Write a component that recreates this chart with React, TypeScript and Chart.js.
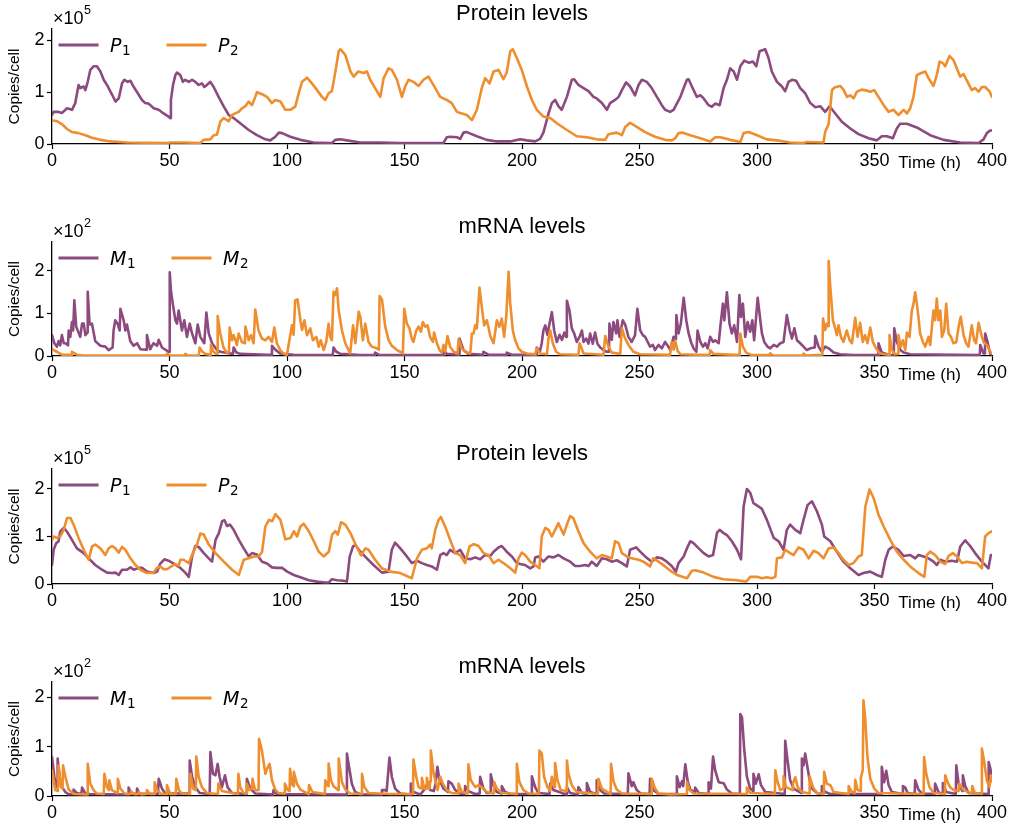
import React, { useEffect, useRef } from 'react';
import { Chart, registerables } from 'chart.js';

Chart.register(...registerables);

type Pt = [number, number];

const X_TICKS = [0, 50, 100, 150, 200, 250, 300, 350, 400];
const Y_TICKS = [0, 1, 2];
const PURPLE = '#8C4A7E';
const ORANGE = '#EF8E2F';
const SANS = '"Liberation Sans", Arial, sans-serif';

// Panel 1: protein levels (x10^5 copies/cell)
const P1_A: Pt[] = [[0,0.56],[0.7,0.62],[2.8,0.62],[4.3,0.6],[6.4,0.69],[8.5,0.66],[9.9,0.79],[11.3,1.14],[12,1.08],[13.5,1.11],[14.2,1.04],[15.2,1.2],[16.3,1.43],[17.7,1.5],[19.1,1.5],[20.6,1.4],[22,1.24],[23.4,1.14],[25.6,0.95],[27,0.82],[28.4,0.88],[29.8,1.17],[30.8,1.24],[32.2,1.2],[33.4,1.22],[34.8,1.1],[36.5,0.98],[38.3,0.85],[39.7,0.79],[41.1,0.78],[43.3,0.69],[45.4,0.66],[47.5,0.59],[49.6,0.53],[50.3,0.5],[50.6,0.85],[51.5,1.14],[52.5,1.33],[53.2,1.38],[54.6,1.33],[55.7,1.2],[56.7,1.24],[58.2,1.2],[59.6,1.24],[61,1.2],[62.4,1.14],[63.8,1.17],[64.8,1.1],[65.9,1.14],[67.4,1.2],[68.8,1.1],[70.9,0.91],[73,0.73],[75.2,0.56],[77.3,0.5],[80.1,0.4],[83.7,0.27],[87.2,0.17],[90.8,0.09],[92.9,0.07],[95,0.14],[96.5,0.22],[97.9,0.21],[101.4,0.14],[105.7,0.08],[111.3,0.03],[119.1,0.02],[120.5,0.08],[122.7,0.09],[125.5,0.07],[131.2,0.03],[139.7,0.03],[148,0.02],[166.6,0.02],[168,0.13],[169.4,0.14],[172.3,0.13],[173.7,0.1],[175.1,0.22],[176.5,0.23],[180.8,0.15],[185,0.08],[189.3,0.05],[195,0.05],[199.2,0.09],[202.1,0.07],[205.6,0.05],[207.7,0.1],[209.1,0.22],[211.3,0.59],[212.7,0.79],[214.1,0.85],[215.5,0.73],[216.9,0.66],[219.1,0.91],[221.2,1.24],[222.2,1.25],[224,1.14],[226.2,1.08],[228.3,1.02],[230.4,0.91],[231.8,0.88],[234,0.79],[236.1,0.66],[237.5,0.79],[239.6,0.85],[241.1,0.91],[242.5,1.04],[244.3,1.19],[246,1.11],[248.1,0.94],[249.6,1.14],[251,1.24],[253.1,1.2],[255.2,1.08],[257.4,0.91],[259.5,0.75],[260.9,0.66],[263,0.62],[264.5,0.66],[266,0.79],[267.4,0.91],[268.8,1.08],[270.2,1.24],[270.9,1.25],[272.3,1.11],[274.4,0.91],[275.9,0.94],[277.3,0.88],[279.4,0.75],[280.8,0.72],[282.2,0.78],[284.1,0.75],[285.8,1.08],[287.2,1.24],[288.6,1.46],[290.1,1.4],[291.5,1.24],[292.9,1.5],[294.6,1.61],[296.4,1.57],[298.3,1.59],[299.7,1.5],[301.1,1.79],[303.5,1.83],[304.9,1.66],[306.3,1.4],[308.5,1.2],[310.6,1.11],[312,1.02],[313.4,1.2],[314.9,1.24],[316.7,1.22],[318.4,1.08],[320.5,0.98],[322.7,0.79],[324.8,0.71],[326.9,0.73],[329,0.62],[330.9,0.73],[333.3,0.59],[336.1,0.43],[339.7,0.3],[343.2,0.19],[347.5,0.11],[351,0.07],[353.1,0.15],[355.3,0.15],[357.8,0.11],[359.5,0.3],[360.9,0.39],[363.8,0.39],[368,0.32],[373.7,0.17],[379.4,0.08],[386.5,0.03],[394.3,0.02],[396.4,0.09],[397.8,0.21],[399.2,0.26],[400,0.26]];

const P2_A: Pt[] = [[0,0.46],[2.1,0.44],[4.3,0.38],[6.4,0.29],[8.5,0.23],[11.3,0.21],[14.2,0.17],[17,0.12],[20.6,0.08],[24.8,0.05],[31.9,0.03],[48.9,0.02],[50.3,0.03],[56,0.03],[63.1,0.02],[64.5,0.08],[67.4,0.09],[68.8,0.17],[70.2,0.18],[71.6,0.43],[73,0.5],[75.2,0.44],[76.6,0.56],[78,0.59],[79.4,0.62],[80.9,0.69],[82.3,0.73],[83.7,0.82],[85.1,0.75],[86.5,0.91],[87.2,1.0],[89.4,0.96],[91.5,0.91],[93.6,0.79],[95,0.85],[97.2,0.82],[99.3,0.66],[101.4,0.66],[103.5,0.72],[105,0.98],[106.4,1.2],[108.5,1.28],[110.6,1.17],[112.8,1.04],[114.9,0.91],[116.3,0.85],[117.7,0.98],[119.1,1.02],[120.6,1.4],[122,1.79],[122.7,1.83],[124.8,1.72],[127,1.4],[128.4,1.3],[129.5,1.36],[130.4,1.4],[132.6,1.37],[134,1.4],[135.4,1.24],[137.5,1.08],[139.7,0.91],[141.1,1.27],[143.2,1.46],[144.6,1.43],[146.8,1.24],[148.9,0.91],[150.3,1.11],[151.7,1.24],[153.8,1.2],[156,1.12],[158.1,1.24],[160.2,1.3],[162.3,1.14],[165.2,0.91],[168,0.85],[170.1,0.79],[172.3,0.62],[174.4,0.59],[176.5,0.56],[178.7,0.46],[180.8,0.66],[182.9,1.08],[184.3,1.27],[186.2,1.17],[187.9,1.4],[190,1.43],[192.1,1.25],[193.5,1.38],[195,1.79],[196.1,1.83],[197.8,1.66],[199.9,1.43],[202.1,1.11],[204.2,0.85],[206.3,0.66],[209.1,0.53],[212,0.5],[214.8,0.4],[219.1,0.27],[223.3,0.15],[227.6,0.13],[231.8,0.09],[235.4,0.08],[236.8,0.19],[240.3,0.22],[242.5,0.17],[243.9,0.33],[246,0.41],[248.8,0.33],[252.4,0.23],[256.6,0.14],[260.9,0.08],[263.7,0.07],[265.2,0.11],[266.6,0.21],[268.1,0.22],[271.6,0.17],[275.9,0.11],[280.1,0.05],[282.2,0.13],[284.4,0.13],[288.6,0.08],[292.9,0.04],[294.3,0.21],[296.4,0.23],[300,0.17],[304.2,0.09],[308.5,0.07],[314.1,0.03],[319.8,0.02],[321.2,0.04],[328.3,0.03],[329,0.23],[330.5,0.39],[331.9,1.04],[332.9,1.09],[335.4,1.12],[336.8,1.05],[338.3,0.91],[339.7,0.94],[341.1,0.88],[342.5,1.01],[344.6,1.05],[346.8,1.03],[348.2,1.01],[349.9,1.04],[351.7,0.91],[353.9,0.75],[356,0.62],[358.1,0.66],[360.2,0.56],[362.4,0.66],[363.8,0.59],[365.2,0.69],[366.6,0.91],[368,1.33],[369.4,1.36],[371.6,1.4],[373,1.27],[375.1,1.12],[376.5,1.33],[377.7,1.59],[379.1,1.56],[380.1,1.5],[381.9,1.7],[383.6,1.62],[385.3,1.43],[386.5,1.3],[387.9,1.35],[389.6,1.2],[391.4,1.04],[392.8,1.08],[394.3,1.01],[395.7,1.1],[397.1,1.1],[399,1.01],[400,0.91]];

// Panel 2: mRNA levels (x10^2 copies/cell)
const M1_A: Pt[] = [[0,0.49],[1,0.3],[2.1,0.22],[2.8,0.35],[3.5,0.25],[4.2,0.49],[5,0.3],[5.7,0.3],[6.8,0.25],[7.1,0.6],[7.8,0.45],[8.5,0.8],[9,0.6],[9.5,1.31],[10.3,0.69],[12,0.45],[12.8,0.76],[13.5,0.76],[14.2,0.49],[15,0.55],[15.2,1.51],[16,0.74],[17,0.76],[18.4,0.35],[20.6,0.24],[22.7,0.22],[24.1,0.14],[25.8,0.2],[26.2,0.6],[26.9,0.84],[27.9,0.76],[28.8,0.6],[29.1,1.11],[30.5,0.84],[31.2,0.6],[31.9,0.74],[33.3,0.35],[34.7,0.24],[36.2,0.3],[37.6,0.16],[40,0.15],[40.4,0.49],[41.8,0.16],[43.2,0.3],[44.7,0.24],[45.4,0.38],[46.8,0.2],[48.2,0.15],[49.6,0.1],[50,0.1],[50.1,1.97],[50.6,1.54],[51.5,1.19],[52.5,0.84],[53.2,0.76],[53.9,1.07],[55.3,0.6],[56.3,0.84],[57.4,0.45],[58.6,0.76],[59.6,0.53],[61,0.3],[62,0.74],[63.1,0.45],[64.8,0.3],[65.7,1.02],[66.7,0.53],[68.1,0.3],[70.2,0.14],[71.6,0.1],[75.9,0.06],[77,0.05],[77.3,0.2],[78.5,0.08],[80.1,0.05],[91.5,0.03],[93.4,0.03],[93.6,0.24],[95,0.15],[97.1,0.06],[102.8,0.03],[119.5,0.02],[119.8,0.2],[121,0.1],[122.7,0.05],[131.2,0.02],[137.3,0.02],[137.5,0.08],[139,0.03],[166.4,0.02],[166.6,0.14],[168,0.05],[173.2,0.03],[173.4,0.41],[175.1,0.14],[177.2,0.05],[183.4,0.03],[183.6,0.1],[185.7,0.03],[193.3,0.03],[193.5,0.08],[195.7,0.03],[206.1,0.03],[206.3,0.2],[207.6,0.1],[208.4,0.3],[209.1,0.6],[209.9,0.72],[210.8,0.5],[211.7,0.76],[212.7,1.03],[213.7,0.6],[214.8,0.33],[216,0.5],[217,0.38],[218,0.55],[218.8,0.45],[219.1,1.3],[220.2,1.07],[221.2,0.65],[222.2,0.53],[223.3,0.33],[224.5,0.45],[225.5,0.6],[226.2,0.33],[227.3,0.41],[228.3,0.29],[229,0.53],[230.1,0.29],[231.1,0.55],[232.1,0.29],[233.3,0.2],[234.7,0.14],[236.1,0.1],[237,0.1],[237.2,0.76],[238.2,0.38],[238.9,0.8],[240.1,0.53],[240.6,0.84],[241.5,0.45],[242.9,0.84],[243.9,0.74],[245.3,0.45],[246.7,0.33],[248.1,0.49],[249.1,1.11],[250.3,0.6],[251.4,0.49],[252.4,0.45],[253.5,0.33],[254.5,0.22],[255.7,0.26],[256.6,0.14],[258.1,0.26],[259.5,0.18],[260.9,0.33],[262.3,0.22],[263.1,0.14],[264.5,0.45],[265.5,0.4],[265.7,0.96],[266.6,0.53],[267.6,0.76],[268.8,1.37],[269.9,0.84],[270.9,0.53],[271.9,0.33],[273,0.18],[274.2,0.1],[274.7,0.6],[275.9,0.33],[277,0.22],[278,0.3],[279,0.18],[280.1,0.45],[281.3,0.33],[282.2,0.37],[283.7,0.3],[284.4,0.69],[285.5,1.23],[286.1,0.84],[287.2,1.5],[288.3,0.76],[289.3,0.53],[290.3,0.72],[291.5,0.33],[292.5,1.43],[293.2,0.92],[294,1.23],[295,0.45],[296,0.8],[297.1,0.57],[298,0.84],[298.8,0.37],[300.3,1.37],[301.4,0.84],[302.1,0.53],[303.1,0.33],[304.5,0.22],[305.6,0.18],[307.1,0.26],[308.5,0.22],[309.9,0.3],[311.3,0.33],[312.7,0.96],[313.9,0.61],[314.9,0.41],[315.9,0.65],[317,0.37],[318.4,0.3],[319.8,0.22],[321.2,0.14],[322.7,0.18],[324.6,0.2],[324.8,0.47],[326.2,0.22],[327.6,0.1],[329,0.22],[330.5,0.18],[332.6,0.08],[335.4,0.04],[341.1,0.02],[351.5,0.02],[351.7,0.3],[353.1,0.08],[356.7,0.02],[358.2,0.02],[358.4,0.65],[359.5,0.33],[361,0.14],[362.4,0.08],[365.2,0.04],[394.8,0.02],[395,0.26],[396.4,0.06],[397,0.06],[397.1,0.53],[398.1,0.33],[399.2,0.06],[400,0.04]];

const M2_A: Pt[] = [[0,0.16],[2.1,0.1],[4.2,0.03],[8.2,0.03],[8.5,0.1],[10.6,0.03],[13.5,0.01],[48.6,0.01],[48.9,0.06],[50.3,0.01],[56.4,0.01],[56.7,0.05],[58.1,0.01],[62.5,0.01],[62.8,0.2],[64,0.1],[65.2,0.05],[67.3,0.03],[67.6,0.27],[68.5,0.12],[69.5,0.06],[70.3,0.05],[70.5,0.94],[71.6,0.53],[73,0.2],[74.5,0.06],[75.3,0.1],[75.6,0.67],[76.6,0.37],[77.3,0.49],[78.7,0.26],[79.4,0.53],[80.8,0.33],[82.1,0.3],[82.3,0.69],[83.7,0.37],[84.7,0.49],[85.8,0.3],[86.5,1.09],[87.9,0.6],[89.3,0.41],[90.8,0.37],[92.2,0.45],[93.6,0.33],[94.6,0.67],[95.7,0.3],[97.1,0.14],[98.6,0.05],[100,0.03],[101.1,0.4],[102.1,0.72],[102.8,0.5],[103.5,1.31],[104.5,1.33],[105.7,0.84],[106.4,0.61],[107.4,0.84],[108.5,0.49],[109.9,0.65],[111,0.37],[112.5,0.45],[113.5,0.22],[114.4,0.37],[115.6,0.14],[116.7,0.33],[117.7,0.76],[118.4,0.45],[119.1,0.37],[119.8,1.51],[120.5,1.43],[121.3,1.59],[122,1.07],[123.4,0.6],[124.8,0.3],[126.2,0.14],[126.9,0.06],[128.1,0.72],[129.1,0.3],[130.5,1.04],[131.2,0.92],[132.3,0.37],[133.3,0.76],[134.7,0.33],[136.1,0.22],[138.2,0.18],[139.1,0.15],[139.4,1.41],[140.4,1.33],[141.8,0.69],[143.2,0.38],[144.6,0.24],[146.8,0.14],[148.2,0.1],[149.3,0.06],[149.9,1.11],[151,0.76],[152.1,0.65],[153.1,0.41],[153.8,0.33],[155,0.6],[156,0.69],[157,0.57],[157.8,0.8],[158.8,0.69],[159.8,0.72],[160.9,0.45],[162.1,0.33],[162.6,0.55],[163.8,0.3],[164.9,0.14],[165.9,0.08],[166.6,0.26],[167.3,0.1],[168.3,0.47],[169.4,0.22],[170.9,0.1],[172.6,0.06],[173,0.4],[174.4,0.18],[175.8,0.1],[178,0.06],[178.7,0.53],[179.4,0.53],[180.1,0.72],[180.8,0.65],[181.9,1.61],[182.9,1.15],[183.9,0.72],[185,0.84],[185.7,0.69],[186.5,0.47],[187.9,0.3],[189.3,0.84],[190.4,0.69],[191.4,0.88],[192.4,0.45],[193.3,0.92],[194.3,1.98],[195,1.23],[196.1,0.6],[197.1,0.37],[198.5,0.18],[199.9,0.1],[202.1,0.06],[205.6,0.04],[206.3,0.18],[207.7,0.06],[210.6,0.04],[211.3,0.42],[212,0.6],[213.1,0.3],[214.5,0.1],[216.2,0.04],[224,0.03],[224.5,0.3],[226.2,0.06],[234.7,0.03],[235.4,0.47],[236.8,0.22],[238.2,0.08],[241.8,0.05],[242.5,0.65],[243.9,0.41],[245.3,0.26],[247.4,0.1],[250.3,0.04],[263,0.03],[263.7,0.33],[264.5,0.15],[265.2,0.35],[266.2,0.12],[267.4,0.04],[279.8,0.02],[280.1,0.14],[281.5,0.05],[292.6,0.02],[292.9,0.53],[294,0.22],[295.4,0.08],[297.8,0.02],[305.4,0.02],[305.6,0.06],[307,0.01],[319.6,0.01],[319.8,0.06],[321,0.01],[327.8,0.03],[328.1,0.88],[329,0.61],[329.7,0.76],[330.3,0.7],[330.5,2.23],[331.2,1.62],[332.3,0.84],[333.3,0.65],[334,0.49],[334.7,0.72],[335.7,0.45],[336.8,0.33],[338.2,0.6],[339.4,0.37],[340.4,0.3],[341.8,0.9],[342.8,0.45],[343.9,0.78],[345,0.33],[346,0.49],[347,0.3],[348.2,0.67],[349.3,0.33],[350.7,0.18],[352.2,0.06],[354,0.04],[356.2,0.03],[356.4,0.49],[357.4,0.14],[358.8,0.04],[360,0.05],[360.2,0.49],[361.2,0.22],[362.1,0.37],[363.1,0.14],[363.8,0.55],[364.9,0.45],[365.9,1.07],[366.6,1.23],[367.3,1.5],[368,1.23],[368.7,0.92],[369.4,0.53],[370.6,0.33],[371.6,0.22],[373,0.45],[373.7,0.26],[375.1,1.07],[375.8,0.84],[376.5,1.35],[377.2,0.84],[378,1.07],[378.7,0.45],[379.7,0.61],[380.5,1.23],[381.5,0.53],[382.5,0.45],[383.6,0.3],[384.8,0.33],[385.8,0.69],[386.7,0.92],[387.9,0.49],[389,0.3],[390,0.22],[391.4,0.72],[392.4,0.37],[393.2,0.3],[394.3,0.78],[395.3,0.53],[396.4,0.33],[397.8,0.26],[399.2,0.1],[400,0.06]];

// Panel 3: protein levels (x10^5 copies/cell)
const P1_B: Pt[] = [[0,0.4],[0.7,0.72],[1.8,0.86],[2.8,0.9],[3.5,1.1],[5,1.18],[6.4,1.1],[8.5,0.93],[10.6,0.75],[13.5,0.65],[15.6,0.54],[18.4,0.4],[21.3,0.3],[23.4,0.24],[25.6,0.23],[27,0.24],[28.4,0.19],[29.8,0.3],[31.9,0.3],[33.4,0.35],[34.8,0.3],[36.9,0.34],[38.3,0.34],[40.4,0.26],[43.3,0.23],[44.7,0.26],[46.1,0.43],[47.8,0.52],[49.6,0.49],[51.8,0.43],[54.6,0.34],[56.7,0.24],[58.2,0.15],[59.6,0.58],[61,0.8],[62.4,0.78],[64.6,0.65],[66.7,0.54],[68.1,0.47],[69.6,0.93],[71,1.07],[72.4,1.32],[73.4,1.34],[74.5,1.22],[75.7,1.25],[77.3,1.14],[79.5,0.93],[81.6,0.75],[83.7,0.58],[85.1,0.65],[87.2,0.62],[89.4,0.47],[91.5,0.43],[93.6,0.35],[95.8,0.34],[97.9,0.34],[100.1,0.26],[102.9,0.19],[105.7,0.14],[109.3,0.08],[112.8,0.05],[116.3,0.03],[117.7,0.03],[119.1,0.1],[121.3,0.08],[124.1,0.07],[125.5,0.05],[126.7,0.58],[128.1,0.79],[129.1,0.82],[131.2,0.68],[134,0.54],[136.8,0.4],[140.4,0.24],[143.2,0.26],[144.6,0.72],[146,0.87],[148.2,0.75],[151,0.58],[153.1,0.44],[155.3,0.49],[157.4,0.44],[159.5,0.4],[161.6,0.37],[163.8,0.3],[165.2,0.61],[166.6,0.65],[168,0.61],[169.4,0.72],[171.6,0.65],[173.7,0.72],[175.8,0.54],[178,0.52],[180.1,0.56],[182.2,0.52],[184.3,0.61],[186.5,0.59],[187.9,0.68],[190,0.77],[191.4,0.8],[193.5,0.68],[195.7,0.58],[197.8,0.44],[199.2,0.42],[201.3,0.4],[203.5,0.33],[204.9,0.37],[205.6,0.56],[207,0.58],[209.1,0.47],[211.3,0.58],[213.4,0.56],[215.5,0.61],[217.7,0.54],[220.5,0.47],[222.6,0.38],[224.7,0.38],[226.9,0.4],[228.3,0.38],[229.7,0.47],[231.8,0.38],[234,0.54],[236.1,0.52],[238.2,0.47],[240.3,0.5],[242.5,0.44],[244.6,0.37],[246,0.72],[248.6,0.77],[250.3,0.68],[252.4,0.58],[255.2,0.47],[257.4,0.56],[259.5,0.54],[261.6,0.47],[263.7,0.38],[265.5,0.26],[266.6,0.44],[268.8,0.58],[270.2,0.75],[271.6,0.9],[273,0.86],[275.2,0.75],[277.3,0.65],[279.4,0.58],[281.3,0.61],[283,1.08],[284.1,1.14],[285.8,1.07],[287.2,1.03],[289.3,0.9],[291.5,0.72],[293.2,0.52],[294.3,1.63],[295.7,2.0],[297.1,1.92],[298.5,1.7],[300.7,1.63],[302.1,1.58],[304.2,1.35],[307.1,0.97],[309.2,0.9],[311.3,0.72],[312.7,1.14],[314.1,1.25],[316.3,1.14],[318.4,1.07],[319.8,1.35],[321.5,1.66],[323.4,1.74],[325.5,1.53],[327.6,1.25],[328.6,1.0],[331.2,0.9],[334,0.68],[336.8,0.47],[339.7,0.33],[343.2,0.19],[345.3,0.23],[348.2,0.26],[351,0.19],[353.1,0.15],[354.6,0.51],[356,0.72],[357.8,0.79],[360.2,0.72],[362.4,0.59],[365.2,0.61],[367.3,0.54],[368.7,0.61],[370.9,0.58],[373,0.54],[375.1,0.47],[376.5,0.4],[378,0.51],[380.1,0.47],[382.9,0.49],[385.1,0.47],[386.5,0.79],[388.6,0.92],[390.7,0.8],[392.8,0.65],[395.7,0.47],[398.5,0.33],[399.5,0.61],[400,0.61]];

const P2_B: Pt[] = [[0,0.93],[0.7,1.0],[2.1,0.97],[3.5,1.0],[5,1.14],[6.4,1.39],[7.8,1.39],[9.2,1.25],[11.3,0.97],[13.5,0.72],[15.6,0.51],[17,0.79],[18.4,0.83],[20.6,0.75],[22.7,0.61],[24.1,0.75],[25.6,0.8],[27,0.75],[28.4,0.66],[29.8,0.78],[31.2,0.72],[33.4,0.54],[35.5,0.4],[37.6,0.3],[40.4,0.23],[43.3,0.24],[44.7,0.34],[46.1,0.37],[47.5,0.31],[48.9,0.31],[51.1,0.38],[52.5,0.42],[53.9,0.38],[54.6,0.51],[56,0.51],[58.2,0.44],[59.6,0.61],[61.7,0.83],[63.1,1.06],[64.6,1.04],[66.7,0.83],[69.6,0.65],[73.1,0.47],[76.6,0.3],[79.5,0.19],[81.6,0.51],[83.7,0.54],[85.9,0.58],[88,0.58],[89.4,0.68],[90.8,1.21],[92.3,1.35],[93.7,1.32],[95.1,1.47],[97.2,1.35],[99.3,0.94],[101.5,0.97],[102.9,1.11],[104.3,1.0],[105.7,1.21],[107.1,1.27],[109.3,1.11],[111.4,0.9],[113.5,0.68],[115.6,0.58],[117.8,0.68],[119.2,1.04],[120.6,1.11],[121.6,1.04],[123,1.3],[124.8,1.25],[127,1.07],[129.1,0.84],[131.5,0.6],[133.3,0.75],[134.7,0.72],[137.5,0.51],[140.4,0.33],[143.9,0.26],[148.2,0.23],[153.1,0.12],[155.3,0.54],[157.4,0.72],[159.5,0.75],[160.9,0.83],[161.6,0.75],[163.1,1.14],[164.5,1.35],[165.5,1.41],[167.3,1.21],[169.4,0.93],[171.6,0.65],[173.7,0.61],[175.8,0.44],[177.7,0.79],[179.4,0.84],[181.5,0.8],[183.6,0.65],[185.7,0.61],[187.9,0.44],[190,0.51],[192.1,0.44],[195,0.33],[197.1,0.24],[198.5,0.54],[199.9,0.66],[201.3,0.61],[203.5,0.47],[205.6,0.4],[207.4,0.33],[208.4,1.0],[209.9,1.18],[211.3,1.14],[212.7,1.0],[214.1,1.14],[215.5,1.28],[217.7,1.04],[219.1,1.25],[220.5,1.43],[221.9,1.38],[224,1.11],[226.2,0.86],[229,0.68],[231.8,0.54],[234,0.61],[236.1,0.58],[238.2,0.54],[239.6,0.9],[241.1,0.86],[242.5,0.65],[244.6,0.58],[246.7,0.54],[249.6,0.51],[251.7,0.47],[254.5,0.37],[255.9,0.54],[258.1,0.47],[260.9,0.37],[263.7,0.26],[266,0.19],[270.2,0.12],[272.3,0.28],[273.7,0.29],[277.3,0.24],[281.5,0.15],[285.8,0.1],[291.5,0.08],[295.4,0.05],[297.1,0.15],[300,0.15],[302.1,0.12],[304.2,0.14],[306.3,0.12],[307.8,0.15],[308.5,0.54],[310.6,0.56],[312,0.72],[314.1,0.65],[315.6,0.61],[317.7,0.77],[319.8,0.72],[322,0.54],[324.1,0.7],[326.2,0.65],[328.3,0.54],[330.5,0.75],[332.6,0.77],[334.7,0.65],[336.8,0.51],[339,0.4],[341.1,0.44],[343.2,0.58],[344.6,0.61],[346.1,1.63],[347.9,1.99],[349.6,1.81],[351.7,1.46],[353.9,1.21],[356.7,0.93],[359.5,0.68],[362.4,0.51],[365.2,0.37],[368.7,0.23],[371.2,0.15],[372.3,0.61],[373.7,0.68],[375.8,0.61],[378,0.47],[380.1,0.42],[381.5,0.59],[383.3,0.65],[385.1,0.58],[387.2,0.44],[389.3,0.47],[391.4,0.45],[393.6,0.44],[395.7,0.33],[397.1,1.0],[398.5,1.07],[400,1.11]];

// Panel 4: mRNA levels (x10^2 copies/cell)
const M1_B: Pt[] = [[0,0.79],[1,0.39],[1.8,0.18],[2.2,0.2],[2.4,0.76],[3.2,0.39],[4.2,0.18],[5.7,0.08],[7.1,0.035],[8.9,0.04],[9.2,0.13],[10.6,0.06],[12.5,0.04],[12.8,0.17],[14.2,0.05],[16,0.04],[32.4,0.03],[32.6,0.17],[33.6,0.06],[36,0.03],[36.2,0.15],[37.2,0.05],[45.1,0.04],[45.4,0.35],[46.8,0.15],[48.2,0.05],[58.3,0.05],[58.6,0.72],[59.6,0.39],[61,0.18],[62.8,0.06],[67.1,0.04],[67.4,0.89],[68.5,0.45],[69.5,0.42],[70.5,0.65],[71.3,0.39],[72.3,0.18],[73.6,0.42],[74.7,0.18],[76.6,0.06],[82.6,0.04],[82.9,0.35],[84.4,0.15],[86.5,0.05],[94,0.03],[94.3,0.12],[95.5,0.04],[125.2,0.03],[125.5,0.86],[126.2,0.65],[127.6,0.25],[129,0.08],[131.2,0.035],[140.1,0.03],[140.4,0.12],[141.8,0.12],[142.4,0.1],[143.6,0.78],[144.6,0.39],[146,0.15],[148.2,0.05],[152.4,0.03],[152.7,0.25],[153.8,0.08],[156.7,0.03],[158.8,0.15],[159.8,0.25],[160.9,0.12],[162.5,0.1],[163.2,0.25],[164,0.59],[164.9,0.32],[166.6,0.15],[168.5,0.08],[168.7,0.3],[170.1,0.25],[171.6,0.12],[173.5,0.05],[175.6,0.04],[175.8,0.2],[177.2,0.1],[180,0.04],[182,0.05],[182.2,0.39],[183.6,0.15],[185,0.06],[186.5,0.06],[186.7,0.44],[187.9,0.2],[189.3,0.08],[191.2,0.05],[191.4,0.2],[192.8,0.08],[195,0.04],[204,0.04],[204.2,0.4],[205.6,0.18],[207,0.06],[211.7,0.04],[212,0.25],[213.4,0.12],[218.8,0.03],[219.1,0.18],[220.5,0.06],[223.8,0.03],[224,0.18],[225.5,0.06],[227.4,0.04],[227.6,0.26],[229,0.08],[231.6,0.04],[231.8,0.32],[233.2,0.12],[235,0.05],[245,0.04],[245.3,0.46],[246.7,0.2],[247.4,0.28],[248.8,0.12],[250.5,0.05],[254.3,0.04],[254.5,0.35],[255.9,0.12],[258.1,0.04],[265.6,0.04],[265.9,0.4],[267.1,0.18],[268.1,0.3],[268.6,0.2],[269.5,0.64],[270.5,0.3],[271.6,0.13],[273.5,0.08],[273.7,0.17],[275.2,0.06],[279.2,0.04],[279.4,0.28],[280.4,0.15],[281.3,0.8],[282.2,0.52],[283.7,0.28],[285.8,0.26],[287.2,0.13],[289.3,0.05],[292.7,0.04],[292.9,1.66],[293.6,1.6],[294.6,0.93],[295.7,0.39],[297.1,0.15],[298.3,0.1],[298.5,0.45],[299.5,0.25],[300.7,0.44],[301.7,0.22],[303.5,0.08],[311.8,0.04],[312,1.12],[313,0.72],[314.1,0.32],[315.6,0.15],[318.9,0.06],[319.1,0.76],[319.8,0.62],[320.5,0.86],[321.2,0.66],[322.4,0.32],[323.4,0.15],[325.5,0.06],[327.5,0.04],[327.6,0.2],[329,0.08],[331.2,0.04],[353,0.04],[353.1,0.59],[354.1,0.28],[355,0.51],[356,0.22],[357.4,0.08],[362,0.04],[362.1,0.2],[363.1,0.17],[364.1,0.06],[367.1,0.04],[367.3,0.32],[368.7,0.13],[370.2,0.05],[375.6,0.04],[375.8,0.25],[377.2,0.08],[378.9,0.04],[379.1,0.26],[380.5,0.08],[384.6,0.04],[384.8,0.62],[385.8,0.25],[387.4,0.1],[387.6,0.42],[388.6,0.2],[390,0.06],[398.4,0.04],[398.6,0.69],[399.5,0.52],[400,0.3]];

const M2_B: Pt[] = [[0,0.52],[1.4,0.12],[2.5,0.1],[2.8,0.62],[3.8,0.18],[4.5,0.15],[4.7,0.62],[5.7,0.39],[7.1,0.13],[9.2,0.04],[14.9,0.03],[15.2,0.65],[16.3,0.25],[17.7,0.12],[19.1,0.05],[22,0.04],[22.3,0.45],[23.4,0.18],[24.2,0.12],[24.4,0.32],[25.5,0.12],[27.8,0.06],[28,0.35],[29.1,0.15],[30.8,0.05],[33.4,0.04],[33.6,0.1],[34.7,0.04],[36.7,0.04],[36.9,0.08],[38,0.03],[40.2,0.04],[40.4,0.12],[41.6,0.04],[43.5,0.04],[43.7,0.28],[44.7,0.12],[46.5,0.04],[48.7,0.04],[48.9,0.22],[50.3,0.04],[52.7,0.04],[52.9,0.35],[54,0.12],[55.3,0.05],[58.7,0.04],[58.9,0.45],[60,0.15],[61.2,0.12],[61.4,0.8],[62.4,0.39],[63.8,0.18],[65.9,0.06],[70.6,0.04],[70.8,0.25],[72.3,0.1],[79.1,0.04],[79.3,0.45],[80.1,0.18],[81.5,0.06],[82.7,0.05],[82.9,0.25],[84,0.12],[85.1,0.15],[85.3,0.35],[86.4,0.12],[87.9,0.12],[88.1,1.16],[89.3,0.93],[90.8,0.45],[91.5,0.55],[92.6,0.65],[93.6,0.32],[95,0.13],[96.4,0.06],[98.9,0.05],[99.1,0.25],[100.3,0.12],[101.1,0.1],[101.3,0.55],[102.1,0.25],[102.7,0.2],[102.9,0.49],[104.2,0.25],[105.7,0.13],[109.2,0.04],[109.4,0.22],[110.8,0.08],[116.1,0.04],[116.3,0.32],[117.5,0.2],[117.7,0.66],[118.7,0.32],[119.8,0.2],[121.8,0.12],[122,0.76],[123.4,0.28],[124.8,0.13],[126.9,0.05],[131.7,0.04],[131.9,0.45],[132.9,0.18],[134.7,0.06],[144,0.04],[153.6,0.04],[153.8,0.74],[155,0.39],[156,0.18],[157.2,0.15],[157.4,0.37],[158.4,0.15],[159.4,0.15],[159.5,0.37],[160.6,0.15],[161,0.3],[161.2,0.92],[162.4,0.45],[163.5,0.25],[164.1,0.12],[165.2,0.39],[166.3,0.25],[168,0.12],[170.1,0.06],[172.8,0.05],[173,0.25],[174.4,0.08],[177,0.05],[177.2,0.64],[178.2,0.32],[180.1,0.18],[181.5,0.22],[183.6,0.15],[185,0.08],[188,0.05],[188.2,0.28],[189.3,0.15],[191.4,0.06],[197.6,0.04],[197.8,0.65],[198.9,0.28],[200.6,0.12],[202.8,0.05],[207.2,0.04],[207.4,0.92],[208.4,0.86],[209.4,0.39],[210.8,0.18],[212,0.1],[212.7,0.39],[213.7,0.18],[214,0.2],[214.1,0.67],[215.1,0.32],[216.5,0.12],[218.9,0.1],[219.1,0.72],[219.8,0.45],[221.2,0.22],[223.3,0.08],[232.3,0.04],[232.5,0.35],[234,0.15],[237.7,0.04],[237.9,0.65],[238.9,0.3],[240.3,0.13],[242.5,0.05],[255,0.04],[255.2,0.35],[256.6,0.15],[258.1,0.05],[263,0.03],[270,0.04],[270.2,0.28],[271.3,0.12],[273,0.05],[295.5,0.04],[295.7,0.17],[297.1,0.06],[307.6,0.04],[307.8,0.52],[308.8,0.28],[309.9,0.12],[311.1,0.15],[311.3,0.4],[312.4,0.18],[315.1,0.12],[315.3,0.26],[316.3,0.38],[317.3,0.18],[319.1,0.08],[322.2,0.05],[322.4,0.4],[323.8,0.18],[325.5,0.06],[328.4,0.04],[328.6,0.49],[329.7,0.25],[331.2,0.22],[332.6,0.08],[338.8,0.04],[339,0.2],[340.4,0.08],[341.6,0.06],[341.8,0.33],[342.8,0.12],[344,0.1],[344.2,0.38],[345,0.52],[345.3,1.94],[346,1.6],[347,0.79],[348.2,0.35],[349.9,0.15],[351.7,0.06],[360,0.05],[370.9,0.04],[371.1,0.79],[372,0.45],[373.4,0.18],[375.1,0.06],[379.9,0.04],[380.1,0.42],[381.1,0.28],[382.2,0.18],[383.6,0.12],[385.8,0.1],[386.1,0.25],[387.9,0.12],[391.4,0.05],[391.6,0.2],[392.7,0.06],[395.5,0.04],[395.7,0.96],[396.7,0.69],[397.8,0.32],[398.9,0.18],[399.5,0.42],[400,0.3]];

const TITLES = ['Protein levels', 'mRNA levels', 'Protein levels', 'mRNA levels'];
const EXPONENTS = ['5', '2', '5', '2'];
const SYMBOLS = ['P', 'M', 'P', 'M'];
const Y_MAX = [2.22, 2.68, 2.42, 2.31];

const PAD_TOP = 29;
const PAD_BOTTOM = 6;
const X_AXIS_H = 30;

type Spec = {
  title: string; exp: string; sym: string; yMax: number;
  plotTop: number; plotBottom: number; s1: Pt[]; s2: Pt[];
};

const SPECS: Spec[] = [
  { title: TITLES[0], exp: EXPONENTS[0], sym: SYMBOLS[0], yMax: Y_MAX[0], plotTop: 29, plotBottom: 144, s1: P1_A, s2: P2_A },
  { title: TITLES[1], exp: EXPONENTS[1], sym: SYMBOLS[1], yMax: Y_MAX[1], plotTop: 242, plotBottom: 356, s1: M1_A, s2: M2_A },
  { title: TITLES[2], exp: EXPONENTS[2], sym: SYMBOLS[2], yMax: Y_MAX[2], plotTop: 469, plotBottom: 584, s1: P1_B, s2: P2_B },
  { title: TITLES[3], exp: EXPONENTS[3], sym: SYMBOLS[3], yMax: Y_MAX[3], plotTop: 682, plotBottom: 796, s1: M1_B, s2: M2_B },
];

const decorPlugin = {
  id: 'decor',
  afterDraw(chart: any, _args: any, opts: any) {
    const ctx = chart.ctx as CanvasRenderingContext2D;
    const a = chart.chartArea;
    ctx.save();
    ctx.fillStyle = '#000';
    // title
    ctx.font = `22px ${SANS}`;
    ctx.textAlign = 'center';
    ctx.textBaseline = 'alphabetic';
    ctx.fillText(opts.title, (a.left + a.right) / 2, a.top - 9.5);
    // offset text x10^n
    ctx.textAlign = 'left';
    ctx.font = `18px ${SANS}`;
    const base = '\u00d710';
    const bx = a.left + 1;
    ctx.fillText(base, bx, a.top - 5.5);
    const bw = ctx.measureText(base).width;
    ctx.font = `12.5px ${SANS}`;
    ctx.fillText(opts.exp, bx + bw + 0.5, a.top - 15);
    // y label
    ctx.save();
    ctx.translate(15, (a.top + a.bottom) / 2);
    ctx.rotate(-Math.PI / 2);
    ctx.textAlign = 'center';
    ctx.textBaseline = 'middle';
    ctx.font = `15.5px ${SANS}`;
    ctx.fillText('Copies/cell', 0, 0);
    ctx.restore();
    // x label
    ctx.font = `17px ${SANS}`;
    ctx.textAlign = 'right';
    ctx.textBaseline = 'alphabetic';
    ctx.fillText('Time (h)', a.right - 31, a.bottom + 23.5);
    // legend
    const ly = a.top + 16;
    let x = a.left + 6.5;
    const entries = [
      { color: PURPLE, sub: '1' },
      { color: ORANGE, sub: '2' },
    ];
    for (const e of entries) {
      ctx.strokeStyle = e.color;
      ctx.lineWidth = 2.8;
      ctx.lineCap = 'butt';
      ctx.beginPath();
      ctx.moveTo(x, ly);
      ctx.lineTo(x + 40, ly);
      ctx.stroke();
      let tx = x + 51.5;
      ctx.fillStyle = '#000';
      ctx.textAlign = 'left';
      ctx.font = 'italic 19px "DejaVu Sans", sans-serif';
      ctx.fillText(opts.sym, tx, ly + 6.5);
      tx += ctx.measureText(opts.sym).width + 0.5;
      ctx.font = '13.5px "DejaVu Sans", sans-serif';
      ctx.fillText(e.sub, tx, ly + 10);
      tx += ctx.measureText(e.sub).width;
      x = tx + 36;
    }
    ctx.restore();
  },
};

function Panel({ spec }: { spec: Spec }) {
  const ref = useRef<HTMLCanvasElement | null>(null);
  const h = spec.plotBottom - spec.plotTop + PAD_TOP + PAD_BOTTOM + X_AXIS_H;
  useEffect(() => {
    if (!ref.current) return;
    const tickFont = { family: SANS, size: 18 };
    const chart = new Chart(ref.current, {
      type: 'line',
      data: {
        datasets: [
          {
            data: spec.s2.map(([x, y]) => ({ x, y })),
            borderColor: ORANGE,
            borderWidth: 2.6,
            pointRadius: 0,
            tension: 0,
            fill: false,
            borderJoinStyle: 'round',
            borderCapStyle: 'round',
            order: 0,
          },
          {
            data: spec.s1.map(([x, y]) => ({ x, y })),
            borderColor: PURPLE,
            borderWidth: 2.6,
            pointRadius: 0,
            tension: 0,
            fill: false,
            borderJoinStyle: 'round',
            borderCapStyle: 'round',
            order: 1,
          },
        ],
      },
      options: {
        animation: false,
        responsive: false,
        devicePixelRatio: 1,
        events: [],
        layout: { padding: { left: 8, right: 22, top: PAD_TOP, bottom: PAD_BOTTOM } },
        plugins: {
          legend: { display: false },
          tooltip: { enabled: false },
          title: { display: false },
          decor: { title: spec.title, exp: spec.exp, sym: spec.sym },
        } as any,
        scales: {
          x: {
            type: 'linear',
            min: 0,
            max: 400,
            afterBuildTicks: (s: any) => { s.ticks = X_TICKS.map((v) => ({ value: v })); },
            afterFit: (s: any) => { s.height = X_AXIS_H; },
            ticks: {
              font: tickFont, color: '#000', padding: 1.5, maxRotation: 0, autoSkip: false,
              callback: (v: any) => String(v),
            },
            grid: { drawOnChartArea: false, drawTicks: true, tickLength: 5, color: '#000', tickColor: '#000', tickWidth: 1.2 },
            border: { display: true, color: '#000', width: 1.3 },
          },
          y: {
            type: 'linear',
            min: 0,
            max: spec.yMax,
            afterBuildTicks: (s: any) => { s.ticks = Y_TICKS.map((v) => ({ value: v })); },
            afterFit: (s: any) => { s.width = 44; },
            ticks: {
              font: tickFont, color: '#000', padding: 2.5,
              callback: (v: any) => String(v),
            },
            grid: { drawOnChartArea: false, drawTicks: true, tickLength: 5, color: '#000', tickColor: '#000', tickWidth: 1.2 },
            border: { display: true, color: '#000', width: 1.3 },
          },
        },
      } as any,
      plugins: [decorPlugin],
    });
    return () => chart.destroy();
  }, [spec]);
  return (
    <canvas
      ref={ref}
      width={1014}
      height={h}
      style={{ position: 'absolute', left: 0, top: spec.plotTop - PAD_TOP, width: 1014, height: h }}
    />
  );
}

export default function App() {
  return (
    <div style={{ position: 'fixed', left: 0, top: 0, width: 1014, height: 824, overflow: 'hidden', background: '#fff' }}>
      {SPECS.map((s, i) => <Panel key={i} spec={s} />)}
    </div>
  );
}
